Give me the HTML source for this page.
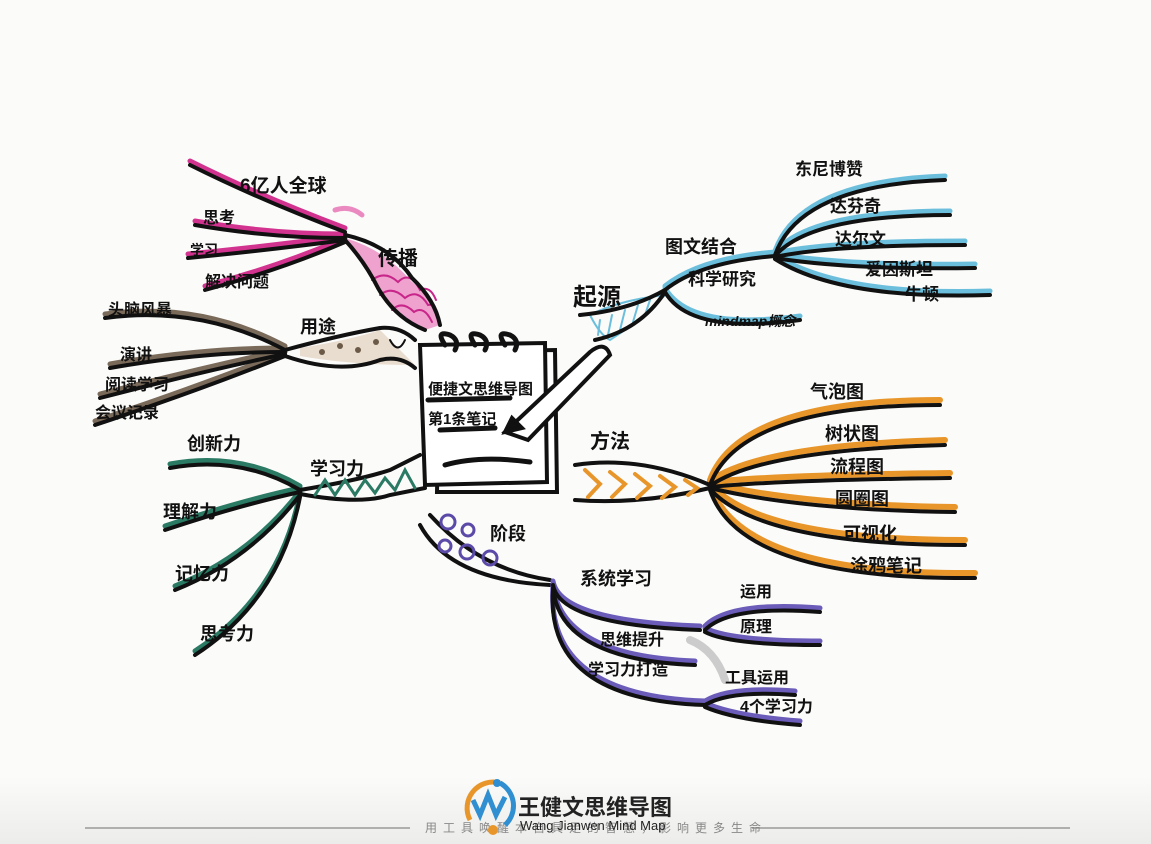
<!DOCTYPE html>
<html><head><meta charset="utf-8"><style>
html,body{margin:0;padding:0;background:#fbfbfa;}
svg{display:block}
text{font-family:"Liberation Sans","WenQuanYi Zen Hei","Noto Sans CJK SC",sans-serif;fill:#111;}
</style></head><body>
<svg width="1151" height="844" viewBox="0 0 1151 844" xmlns="http://www.w3.org/2000/svg">
<defs>
<linearGradient id="bg" x1="0" y1="0" x2="0" y2="1"><stop offset="0.92" stop-color="#fbfbfa"/><stop offset="1" stop-color="#ececea"/></linearGradient>
</defs>
<rect width="1151" height="844" fill="url(#bg)"/>
<g fill="none" stroke-linecap="round">
<!-- 传播 magenta -->
<g stroke="#d2338f" stroke-width="5" transform="translate(0,-4)">
<path d="M190 165 Q260 200 345 232"/><path d="M195 225 Q270 238 345 238"/><path d="M188 258 Q270 250 345 240"/><path d="M205 290 Q280 270 345 242"/>
</g>
<path d="M345 238 Q385 250 410 280 Q435 300 440 325 L425 330 Q395 320 375 285 Q360 260 345 242Z" fill="#e35aa8" opacity="0.55" stroke="none"/>
<g stroke="#c8268a" stroke-width="2">
<path d="M372 280 Q385 270 398 282 Q410 270 420 290 Q430 285 436 300"/>
<path d="M380 295 Q392 285 405 298 Q418 288 428 305 Q435 303 438 315"/>
<path d="M392 310 Q402 300 414 312 Q424 305 432 322"/>
</g>
<path d="M335 210 Q350 205 362 215" stroke="#e35aa8" stroke-width="5" opacity="0.7"/>
<g stroke="#111" stroke-width="4">
<path d="M190 165 Q260 200 345 232"/><path d="M195 225 Q270 238 345 238"/><path d="M188 258 Q270 250 345 240"/><path d="M205 290 Q280 270 345 242"/>
<path d="M345 235 Q390 245 412 278 Q435 300 440 325"/><path d="M345 240 Q365 262 378 288 Q395 318 425 330"/>
</g>
<!-- 用途 brown -->
<g stroke="#7a6a5a" stroke-width="5" transform="translate(0,-4)">
<path d="M105 318 Q200 305 285 350"/><path d="M110 368 Q200 352 285 352"/><path d="M100 398 Q200 372 285 354"/><path d="M95 425 Q200 390 285 356"/>
</g>
<path d="M300 348 Q350 340 380 330 Q400 350 415 365 Q350 365 300 356Z" fill="#e9ddcf" stroke="none"/>
<g stroke="#111" stroke-width="4">
<path d="M105 318 Q200 305 285 350"/><path d="M110 368 Q200 352 285 352"/><path d="M100 398 Q200 372 285 354"/><path d="M95 425 Q200 390 285 356"/>
<path d="M285 350 Q340 335 380 328 Q400 326 415 340"/><path d="M285 356 Q340 375 380 360 Q400 355 415 368"/>
</g>
<g fill="#6b5a48"><circle cx="322" cy="352" r="3"/><circle cx="340" cy="346" r="3"/><circle cx="358" cy="350" r="3"/><circle cx="376" cy="342" r="3"/></g>
<path d="M390 340 Q398 355 405 340" stroke="#111" stroke-width="2"/>
<!-- 学习力 teal -->
<g stroke="#2a7a64" stroke-width="5" transform="translate(0,-4)">
<path d="M170 468 Q240 455 300 490"/><path d="M165 530 Q240 505 300 492"/><path d="M175 590 Q250 560 300 495"/><path d="M195 655 Q280 600 300 497"/>
</g>
<g stroke="#111" stroke-width="4">
<path d="M170 468 Q240 455 300 490"/><path d="M165 530 Q240 505 300 492"/><path d="M175 590 Q250 560 300 495"/><path d="M195 655 Q280 600 300 497"/>
<path d="M300 490 Q360 480 390 470 Q410 460 420 455"/><path d="M300 494 Q360 505 390 495 Q415 490 425 488"/>
</g>
<path d="M315 495 L325 480 L335 495 L345 480 L355 495 L365 480 L375 493 L385 478 L395 490 L405 470 L415 488" stroke="#2a7a64" stroke-width="3"/>
<!-- 阶段 purple -->
<g stroke="#111" stroke-width="4">
<path d="M420 525 Q450 580 550 585"/><path d="M430 515 Q480 570 550 580"/>
</g>
<g stroke="#5c4aa8" stroke-width="3"><circle cx="448" cy="522" r="7"/><circle cx="468" cy="530" r="6"/><circle cx="445" cy="546" r="6"/><circle cx="467" cy="552" r="7"/><circle cx="490" cy="558" r="7"/></g>
<g stroke="#6a5cb8" stroke-width="5" transform="translate(0,-4)">
<path d="M553 585 Q560 625 700 630"/><path d="M553 588 Q560 660 695 665"/><path d="M553 590 Q545 700 705 705"/>
<path d="M705 630 Q730 605 820 612"/><path d="M705 632 Q730 645 820 645"/>
<path d="M705 705 Q730 690 795 695"/><path d="M705 707 Q735 720 800 725"/>
</g>
<g stroke="#111" stroke-width="4">
<path d="M553 585 Q560 625 700 630"/><path d="M553 588 Q560 660 695 665"/><path d="M553 590 Q545 700 705 705"/>
<path d="M705 630 Q730 605 820 612"/><path d="M705 632 Q730 645 820 645"/>
<path d="M705 705 Q730 690 795 695"/><path d="M705 707 Q735 720 800 725"/>
</g>
<path d="M690 640 Q715 650 725 680" stroke="#ccc" stroke-width="8"/>
<!-- 方法 orange -->
<g stroke="#e8962a" stroke-width="6" transform="translate(0,-5)">
<path d="M710 485 Q740 405 940 405"/><path d="M710 486 Q760 450 945 445"/><path d="M710 487 Q780 480 950 478"/><path d="M710 488 Q800 510 955 512"/><path d="M710 489 Q760 545 965 545"/><path d="M710 490 Q740 580 975 578"/>
</g>
<g stroke="#111" stroke-width="4">
<path d="M710 485 Q740 405 940 405"/><path d="M710 486 Q760 450 945 445"/><path d="M710 487 Q780 480 950 478"/><path d="M710 488 Q800 510 955 512"/><path d="M710 489 Q760 545 965 545"/><path d="M710 490 Q740 580 975 578"/>
<path d="M575 465 Q640 455 710 485"/><path d="M575 500 Q640 505 710 488"/>
</g>
<g stroke="#e8962a" stroke-width="4"><path d="M585 470 L600 484 L588 497"/><path d="M610 472 L625 484 L612 497"/><path d="M635 474 L650 486 L637 498"/><path d="M660 476 L675 487 L662 498"/><path d="M685 480 L697 488 L688 495"/></g>
<!-- 起源 blue -->
<g stroke="#6cbfdc" stroke-width="5" transform="translate(0,-4)">
<path d="M775 255 Q800 185 945 180"/><path d="M775 256 Q810 215 950 215"/><path d="M775 257 Q830 245 965 245"/><path d="M775 258 Q850 270 975 268"/><path d="M775 259 Q840 300 990 295"/>
<path d="M665 290 Q700 262 775 256"/><path d="M665 292 Q690 335 800 320"/>
</g>
<path d="M590 315 Q600 335 610 340 L640 320 L665 295 Q620 300 590 315Z" fill="none" stroke="#6cbfdc" stroke-width="2"/>
<g stroke="#6cbfdc" stroke-width="2"><path d="M600 320 L598 335"/><path d="M612 315 L608 335"/><path d="M625 310 L620 330"/><path d="M638 305 L633 322"/><path d="M650 300 L645 315"/></g>
<g stroke="#111" stroke-width="4">
<path d="M775 255 Q800 185 945 180"/><path d="M775 256 Q810 215 950 215"/><path d="M775 257 Q830 245 965 245"/><path d="M775 258 Q850 270 975 268"/><path d="M775 259 Q840 300 990 295"/>
<path d="M665 290 Q700 262 775 256"/><path d="M665 292 Q690 335 800 320"/>
<path d="M580 315 Q630 310 665 290"/><path d="M595 340 Q640 330 665 292"/>
</g>
<!-- notebook -->
<g stroke="#111" stroke-width="4" fill="#fff">
<path d="M440 352 L555 350 L557 492 L437 492Z"/>
<path d="M420 345 L545 343 L547 482 L425 485Z"/>
</g>
<g stroke="#111" stroke-width="5">
<path d="M445 345 Q435 330 450 335 Q460 340 455 350"/><path d="M475 345 Q465 330 480 335 Q490 340 485 350"/><path d="M505 345 Q495 330 510 335 Q520 340 515 350"/>
<path d="M445 465 Q480 455 530 462"/>
<path d="M428 400 L510 398"/><path d="M440 430 L495 428"/>
</g>
<g stroke="#111" stroke-width="4" fill="#fff">
<path d="M505 432 L590 352 Q605 340 610 355 L528 440 Z"/>
<path d="M505 432 L512 418 L522 428Z" fill="#111"/>
</g>
</g>
<g font-size="16" font-weight="bold">
<text x="428" y="394" font-size="15">便捷文思维导图</text>
<text x="428" y="424" font-size="15">第1条笔记</text>
<text x="240" y="192" font-size="19">6亿人全球</text>
<text x="203" y="223">思考</text>
<text x="190" y="255" font-size="14">学习</text>
<text x="205" y="287">解决问题</text>
<text x="378" y="265" font-size="20">传播</text>
<text x="108" y="315">头脑风暴</text>
<text x="120" y="360">演讲</text>
<text x="105" y="390">阅读学习</text>
<text x="95" y="418">会议记录</text>
<text x="300" y="333" font-size="18">用途</text>
<text x="187" y="450" font-size="18">创新力</text>
<text x="310" y="475" font-size="18">学习力</text>
<text x="163" y="518" font-size="18">理解力</text>
<text x="175" y="580" font-size="18">记忆力</text>
<text x="200" y="640" font-size="18">思考力</text>
<text x="490" y="540" font-size="18">阶段</text>
<text x="580" y="585" font-size="18">系统学习</text>
<text x="600" y="645">思维提升</text>
<text x="588" y="675">学习力打造</text>
<text x="740" y="597">运用</text>
<text x="740" y="632">原理</text>
<text x="725" y="683">工具运用</text>
<text x="740" y="712">4个学习力</text>
<text x="590" y="448" font-size="20">方法</text>
<text x="810" y="398" font-size="18">气泡图</text>
<text x="825" y="440" font-size="18">树状图</text>
<text x="830" y="473" font-size="18">流程图</text>
<text x="835" y="505" font-size="18">圆圈图</text>
<text x="843" y="540" font-size="18">可视化</text>
<text x="850" y="572" font-size="18">涂鸦笔记</text>
<text x="573" y="305" font-size="24">起源</text>
<text x="665" y="253" font-size="18">图文结合</text>
<text x="688" y="285" font-size="17">科学研究</text>
<text x="705" y="326" font-size="14" font-style="italic">mindmap概念</text>
<text x="795" y="175" font-size="17">东尼博赞</text>
<text x="830" y="212" font-size="17">达芬奇</text>
<text x="835" y="245" font-size="17">达尔文</text>
<text x="865" y="275" font-size="17">爱因斯坦</text>
<text x="905" y="300" font-size="17">牛顿</text>
</g>
<!-- logo -->
<line x1="85" y1="828" x2="410" y2="828" stroke="#999" stroke-width="1.5"/>
<line x1="752" y1="828" x2="1070" y2="828" stroke="#999" stroke-width="1.5"/>
<text x="425" y="832" font-size="12" style="fill:#888;letter-spacing:6px">用工具唤醒本自具足的智慧，影响更多生命</text>
<path d="M470 820 A26 26 0 0 1 500 783" stroke="#e8962a" stroke-width="5" fill="none"/>
<path d="M500 783 A26 26 0 0 1 505 825" stroke="#2f8fd0" stroke-width="5" fill="none"/>
<path d="M473 800 L480 815 L488 795 L496 815 L505 797" stroke="#2f8fd0" stroke-width="5" fill="none"/>
<circle cx="497" cy="783" r="4" fill="#2f8fd0"/><circle cx="493" cy="830" r="5" fill="#e8962a"/>
<text x="518" y="815" font-size="22" font-weight="bold" style="fill:#222">王健文思维导图</text>
<text x="520" y="830" font-size="13" style="fill:#222">Wang Jianwen Mind Map</text>
</svg>
</body></html>
